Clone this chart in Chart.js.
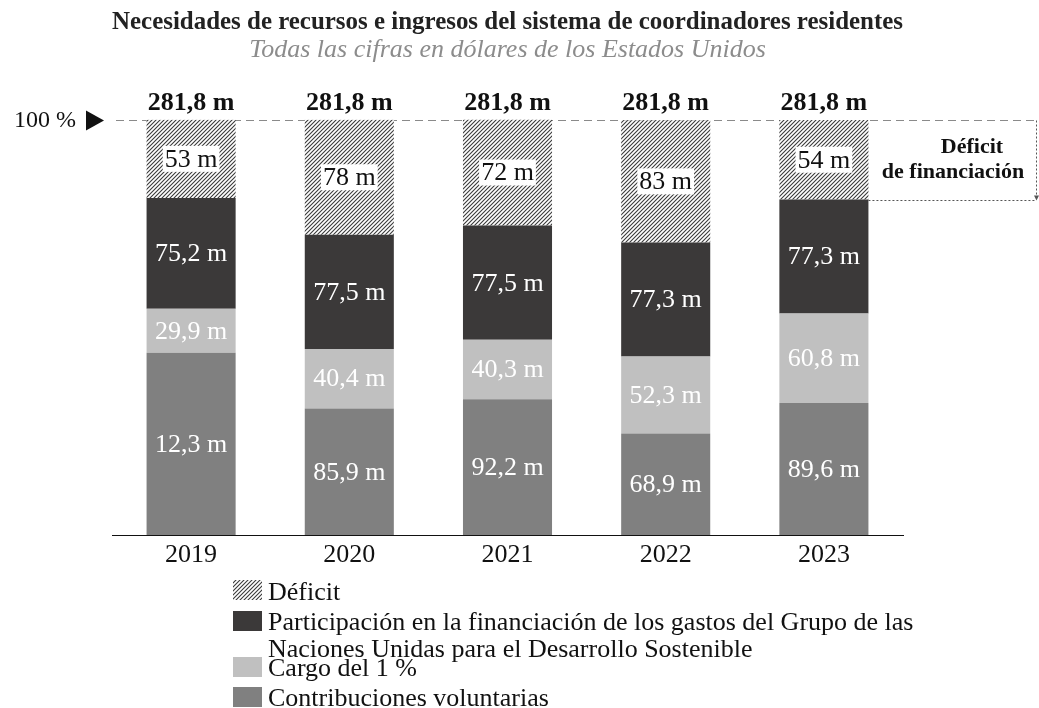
<!DOCTYPE html>
<html><head><meta charset="utf-8">
<script src="https://cdn.jsdelivr.net/npm/chart.js@4"></script>
<style>html,body{margin:0;padding:0;background:#fff}#wrap{width:1039px;height:708px;position:relative}</style>
</head><body><div id="wrap"><canvas id="c"></canvas></div>
<script>
// ---- data ----
const years = ['2019', '2020', '2021', '2022', '2023'];
const voluntarias = [123.7, 85.9, 92.2, 68.9, 89.6];
const voluntariasShown = [12.3, 85.9, 92.2, 68.9, 89.6]; // as printed in the source
const cargo = [29.9, 40.4, 40.3, 52.3, 60.8];
const participacion = [75.2, 77.5, 77.5, 77.3, 77.3];
const deficit = [53, 78, 72, 83, 54];
const totals = [281.8, 281.8, 281.8, 281.8, 281.8];
const seriesNames = ['Contribuciones voluntarias', 'Cargo del 1 %',
  'Participación en la financiación de los gastos del Grupo de las Naciones Unidas para el Desarrollo Sostenible', 'Déficit'];
const legendLines = [
  ['Déficit'],
  ['Participación en la financiación de los gastos del Grupo de las', 'Naciones Unidas para el Desarrollo Sostenible'],
  ['Cargo del 1 %'],
  ['Contribuciones voluntarias']
];
const title = 'Necesidades de recursos e ingresos del sistema de coordinadores residentes';
const subtitle = 'Todas las cifras en dólares de los Estados Unidos';

const SERIF = '"Liberation Serif", "Times New Roman", serif';
const C_DARK = '#808080', C_LIGHT = '#c0c0c0', C_BLACK = '#3b3939';

const canvas = document.getElementById('c');
const mainCtx = canvas.getContext('2d');
function makeHatch() {
  const s = 4;
  const t = document.createElement('canvas'); t.width = s; t.height = s;
  const g = t.getContext('2d');
  g.fillStyle = '#fff'; g.fillRect(0, 0, s, s);
  g.strokeStyle = '#3a3a3a'; g.lineWidth = 1.1;
  g.beginPath();
  g.moveTo(-1, s + 1); g.lineTo(s + 1, -1);
  g.moveTo(-1, 1); g.lineTo(1, -1);
  g.moveTo(s - 1, s + 1); g.lineTo(s + 1, s - 1);
  g.stroke();
  return mainCtx.createPattern(t, 'repeat');
}
const HATCH = makeHatch();
const fmt = v => v.toFixed(1).replace('.', ',') + ' m';
const fmtInt = v => (Number.isInteger(v) ? String(v) : v.toFixed(1).replace('.', ',')) + ' m';

const overlay = {
  id: 'overlay',
  beforeDatasetsDraw(chart) {
    const ctx = chart.ctx, ys = chart.scales.y;
    const y = Math.round(ys.getPixelForValue(totals[0])) + 0.5;
    ctx.save();
    ctx.strokeStyle = '#8a8a8a'; ctx.lineWidth = 1; ctx.setLineDash([8, 5]);
    ctx.beginPath(); ctx.moveTo(116, y); ctx.lineTo(1037, y); ctx.stroke();
    ctx.setLineDash([]);
    // 100 % marker
    ctx.fillStyle = '#111';
    ctx.font = '24px ' + SERIF; ctx.textAlign = 'right'; ctx.textBaseline = 'middle';
    ctx.fillText('100 %', 76, y);
    ctx.beginPath(); ctx.moveTo(86, y - 10); ctx.lineTo(104, y); ctx.lineTo(86, y + 10); ctx.closePath(); ctx.fill();
    ctx.restore();
  },
  afterDatasetsDraw(chart) {
    const ctx = chart.ctx;
    ctx.save();
    ctx.textAlign = 'center'; ctx.textBaseline = 'middle';
    ctx.font = '26px ' + SERIF;
    const src = [voluntariasShown, cargo, participacion, deficit];
    for (let d = 0; d < 4; d++) {
      const meta = chart.getDatasetMeta(d);
      meta.data.forEach((el, i) => {
        const cy = (el.y + el.base) / 2;
        const txt = d === 3 ? fmtInt(src[d][i]) : fmt(src[d][i]);
        if (d === 3) {
          const w = ctx.measureText(txt).width;
          ctx.fillStyle = '#fff';
          ctx.fillRect(el.x - w / 2 - 2, cy - 13, w + 4, 26);
          ctx.fillStyle = '#111';
        } else ctx.fillStyle = '#fff';
        ctx.fillText(txt, el.x, cy + 1);
      });
    }
    // totals
    ctx.font = 'bold 26px ' + SERIF; ctx.fillStyle = '#111';
    const top = chart.scales.y.getPixelForValue(totals[0]);
    chart.getDatasetMeta(3).data.forEach((el, i) => ctx.fillText(fmt(totals[i]), el.x, top - 17));
    // deficit annotation
    const last = chart.getDatasetMeta(3).data[4];
    const x0 = last.x + last.width / 2, yb = Math.round(last.base) + 0.5, yt = Math.round(top) + 0.5;
    ctx.strokeStyle = '#555'; ctx.lineWidth = 1; ctx.setLineDash([2, 2]);
    ctx.beginPath(); ctx.moveTo(x0, yb); ctx.lineTo(1036, yb); ctx.moveTo(1036.5, yt); ctx.lineTo(1036.5, yb - 4); ctx.stroke();
    ctx.setLineDash([]);
    ctx.fillStyle = '#555';
    ctx.beginPath(); ctx.moveTo(1034, yb - 5); ctx.lineTo(1039, yb - 5); ctx.lineTo(1036.5, yb); ctx.closePath(); ctx.fill();
    ctx.fillStyle = '#111'; ctx.font = 'bold 22px ' + SERIF;
    ctx.fillText('Déficit', 972, 147);
    ctx.fillText('de financiación', 953, 172);
    ctx.restore();
  },
  afterDraw(chart) {
    const ctx = chart.ctx;
    ctx.save();
    const fills = [HATCH, C_BLACK, C_LIGHT, C_DARK];
    const boxes = [580, 611, 657, 687];
    const baselines = [[600], [630, 657], [676], [706]];
    ctx.font = '26px ' + SERIF; ctx.textAlign = 'left'; ctx.textBaseline = 'alphabetic';
    for (let i = 0; i < 4; i++) {
      ctx.fillStyle = fills[i];
      ctx.fillRect(233, boxes[i], 29, 20);
      ctx.fillStyle = '#111';
      legendLines[i].forEach((t, j) => ctx.fillText(t, 268, baselines[i][j]));
    }
    ctx.restore();
  }
};

new Chart(canvas, {
  type: 'bar',
  data: {
    labels: years,
    datasets: [
      { label: seriesNames[0], data: voluntarias, backgroundColor: C_DARK },
      { label: seriesNames[1], data: cargo, backgroundColor: C_LIGHT },
      { label: seriesNames[2], data: participacion, backgroundColor: C_BLACK },
      { label: seriesNames[3], data: deficit, backgroundColor: HATCH }
    ]
  },
  options: {
    responsive: true, maintainAspectRatio: false, animation: false,
    layout: { padding: { left: 112, right: 136, top: 0, bottom: 133 } },
    datasets: { bar: { barPercentage: 0.563, categoryPercentage: 1, borderWidth: 0 } },
    scales: {
      x: {
        stacked: true,
        grid: { display: false, drawTicks: false },
        border: { display: true, color: '#111', width: 1 },
        ticks: { color: '#111', font: { family: SERIF, size: 26 }, padding: 5 },
        afterFit(s) { s.height = 40; }
      },
      y: { stacked: true, display: false, min: 0, max: 282 }
    },
    plugins: {
      legend: { display: false },
      tooltip: { enabled: false },
      title: { display: true, text: title, color: '#222', font: { family: SERIF, size: 25.5, weight: 'bold', lineHeight: 1 }, padding: { top: 10, bottom: 2 } },
      subtitle: { display: true, text: subtitle, color: '#8c8c8c', font: { family: SERIF, size: 26, style: 'italic', lineHeight: 1 }, padding: { top: 0, bottom: 56 } }
    }
  },
  plugins: [overlay]
});
</script></body></html>
